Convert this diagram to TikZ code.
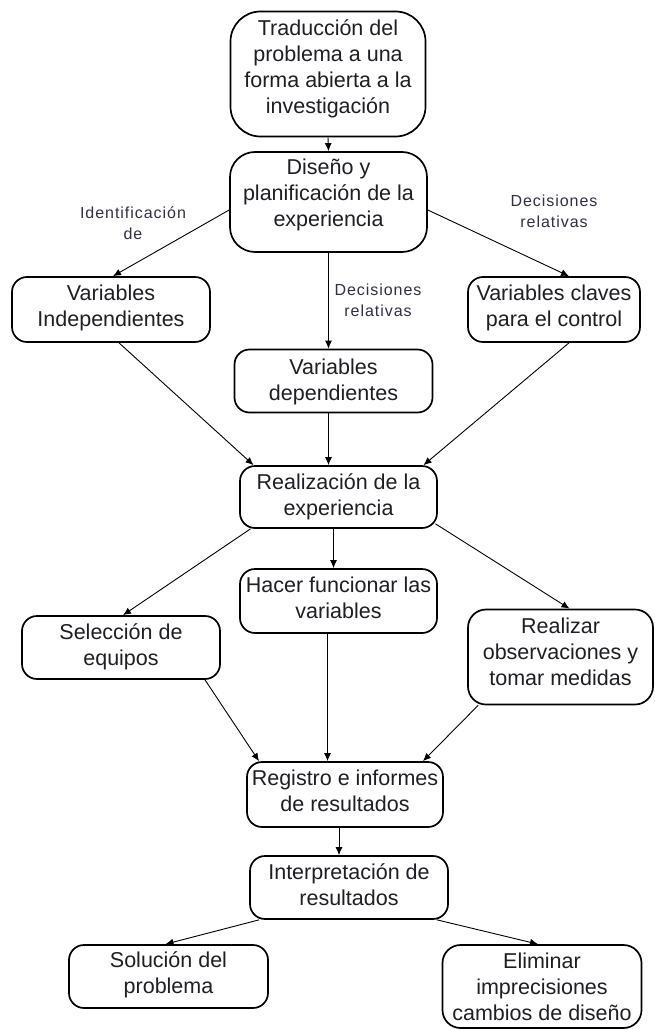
\documentclass[tikz,border=0pt]{standalone}
\usepackage{fontspec}
\setmainfont{Liberation Sans}
\newfontfamily\lblfont[LetterSpace=6]{Liberation Sans}
\usetikzlibrary{arrows.meta,calc}
\definecolor{txt}{HTML}{1E1E24}
\definecolor{lbl}{HTML}{332E40}
\tikzset{
  nbox/.style={draw=black, line width=1.7pt, rounded corners=#1, inner sep=0pt},
  nbox/.default=15pt,
  % positioned at the visual centre of the LAST line
  ntext/.style={align=center, inner sep=0pt, text height=19pt, text depth=2pt,
    font=\fontsize{21.5}{26}\selectfont, text=txt},
  lab/.style={align=center, inner sep=0pt, text height=13pt, text depth=2pt,
    font=\lblfont\fontsize{16}{21}\selectfont, text=lbl},
  arr/.style={-{Latex[length=8pt,width=7pt]}, line width=0.9pt, draw=black},
}
\begin{document}
\begin{tikzpicture}[x=1pt,y=-1pt]
\useasboundingbox (0,0) rectangle (655,1030);
% boxes
\node[nbox=30pt, minimum width=195pt, minimum height=125pt] (b1) at (328,74) {};
\node[nbox=25pt, minimum width=197pt, minimum height=100pt] (b2) at (328.5,202) {};
\node[nbox, minimum width=198pt, minimum height=65pt] (vi) at (111,309.5) {};
\node[nbox, minimum width=172pt, minimum height=65pt] (vc) at (554,309.5) {};
\node[nbox, minimum width=198pt, minimum height=63pt] (vd) at (333.5,381) {};
\node[nbox, minimum width=197pt, minimum height=62pt] (re) at (338.5,497) {};
\node[nbox, minimum width=197pt, minimum height=64pt] (hf) at (338.5,601) {};
\node[nbox, minimum width=198pt, minimum height=63pt] (sel) at (121,647.5) {};
\node[nbox=18pt, minimum width=185pt, minimum height=95pt] (ro) at (560.5,657) {};
\node[nbox, minimum width=196pt, minimum height=65pt] (rg) at (345,794.5) {};
\node[nbox, minimum width=198pt, minimum height=63pt] (ip) at (349,887.5) {};
\node[nbox, minimum width=199pt, minimum height=63pt] (sol) at (168.5,976.5) {};
\node[nbox=18pt, minimum width=199pt, minimum height=83pt] (el) at (542,986.5) {};
% texts (coordinate = last line)
\node[ntext] (t1) at (328,105) {Traducción del\\problema a una\\forma abierta a la\\investigación};
\node[ntext] (t2) at (328.5,218) {Diseño y\\planificación de la\\experiencia};
\node[ntext] (t3) at (111,318) {Variables\\Independientes};
\node[ntext] (t4) at (554,318) {Variables claves\\para el control};
\node[ntext] (t5) at (333.5,392) {Variables\\dependientes};
\node[ntext] (t6) at (338.5,507) {Realización de la\\experiencia};
\node[ntext] (t7) at (338.5,610) {Hacer funcionar las\\variables};
\node[ntext] (t8) at (121,657) {Selección de\\equipos};
\node[ntext] (t9) at (560.5,677) {Realizar\\observaciones y\\tomar medidas};
\node[ntext] (t10) at (345,803) {Registro e informes\\de resultados};
\node[ntext] (t11) at (349,897) {Interpretación de\\resultados};
\node[ntext] (t12) at (168.5,985) {Solución del\\problema};
\node[ntext] (t13) at (542,1012) {Eliminar\\imprecisiones\\cambios de diseño};
% labels (coordinate = last line)
\node[lab] (l1) at (133,234) {Identificación\\de};
\node[lab] (l2) at (554,222) {Decisiones\\relativas};
\node[lab] (l3) at (378,311) {Decisiones\\relativas};
% connectors
\draw[arr] (b1.south) -- (b2.north);
\draw[arr] ([yshift=-8pt]b2.west) -- ([xshift=2pt]vi.north);
\draw[arr] ([yshift=-8pt]b2.east) -- ([xshift=15pt]vc.north);
\draw[arr] (b2.south) -- (b2.south |- vd.north);
\draw[arr] ([xshift=8pt]vi.south) -- ([xshift=-85pt]re.north);
\draw[arr] (vd.south -| b2.south) -- (b2.south |- re.north);
\draw[arr] ([xshift=15pt]vc.south) -- ([xshift=85pt]re.north);
\draw[arr] ([xshift=-88pt]re.south) -- ([xshift=2pt]sel.north);
\draw[arr] ([xshift=-5pt]re.south) -- ([xshift=-5pt]hf.north);
\draw[arr] ([xshift=97pt,yshift=5pt]re.south) -- ([xshift=9pt]ro.north);
\draw[arr] ([xshift=84pt]sel.south) -- ([xshift=-86pt]rg.north);
\draw[arr] ([xshift=-11pt]hf.south) -- ([xshift=-11pt]hf.south |- rg.north);
\draw[arr] ([xshift=11pt]ro.south west) -- ([xshift=78pt]rg.north);
\draw[arr] ([xshift=-6pt]rg.south) -- ([xshift=-6pt]rg.south |- ip.north);
\draw[arr] ([xshift=-90pt]ip.south) -- ([xshift=-3pt]sol.north);
\draw[arr] ([xshift=88pt]ip.south) -- ([xshift=-4pt]el.north);
\end{tikzpicture}
\end{document}
